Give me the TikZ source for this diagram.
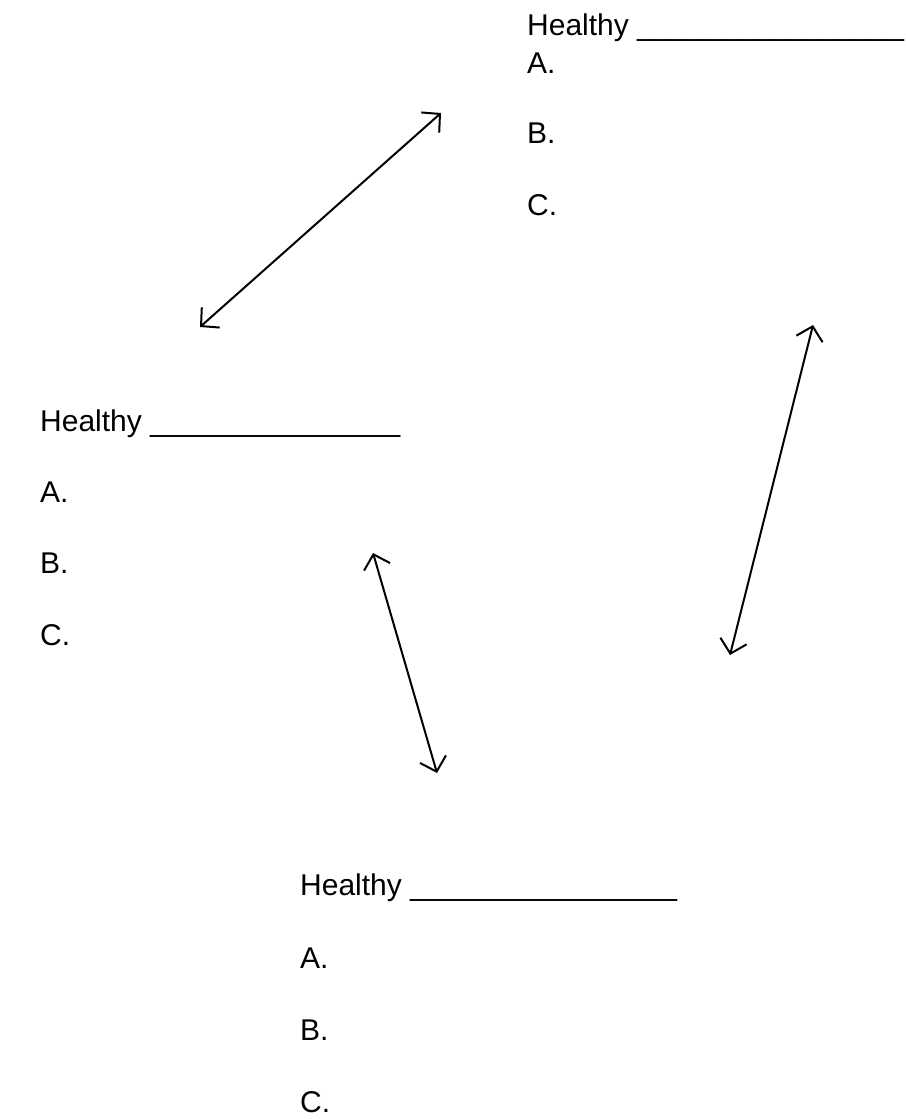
\documentclass[tikz,border=0pt]{standalone}
\usepackage{fontspec}
\setmainfont{Liberation Sans}
\usetikzlibrary{arrows.meta}

\begin{document}
\begin{tikzpicture}[x=1pt,y=-1pt,
    entry/.style={anchor=base west,inner sep=0pt,font=\fontsize{30}{34}\selectfont},
    link/.style={{Straight Barb[length=13pt,width=27pt]}-{Straight Barb[length=13pt,width=27pt]},line width=2pt}]
    % page frame
    \useasboundingbox (0,0) rectangle (905,1119);
    % top right list
    \node[entry] (topH) at (527,35) {Healthy \_\_\_\_\_\_\_\_\_\_\_\_\_\_\_\_};
    \node[entry] (topA) at (527,73) {A.};
    \node[entry] (topB) at (527,143) {B.};
    \node[entry] (topC) at (527,215) {C.};
    % left list
    \node[entry] (leftH) at (40,431) {Healthy \_\_\_\_\_\_\_\_\_\_\_\_\_\_\_};
    \node[entry] (leftA) at (40,502) {A.};
    \node[entry] (leftB) at (40,573) {B.};
    \node[entry] (leftC) at (40,645) {C.};
    % bottom list
    \node[entry] (botH) at (300,895) {Healthy \_\_\_\_\_\_\_\_\_\_\_\_\_\_\_\_};
    \node[entry] (botA) at (300,968) {A.};
    \node[entry] (botB) at (300,1040) {B.};
    \node[entry] (botC) at (300,1112) {C.};
    % arrow ends
    \coordinate (e1a) at (200,327);
    \coordinate (e1b) at (441,113);
    \coordinate (e2a) at (373,553);
    \coordinate (e2b) at (437,773);
    \coordinate (e3a) at (813,325);
    \coordinate (e3b) at (730,655);
    \draw[link] (e1a) -- (e1b);
    \draw[link] (e2a) -- (e2b);
    \draw[link] (e3a) -- (e3b);
\end{tikzpicture}
\end{document}
